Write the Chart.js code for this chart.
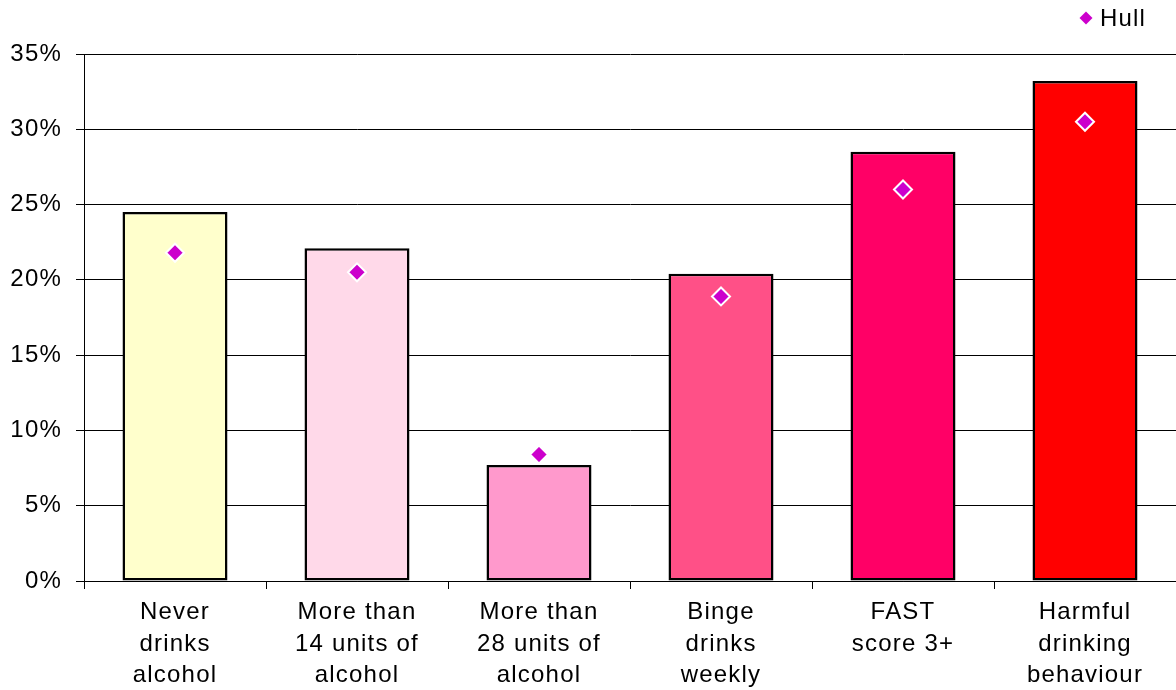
<!DOCTYPE html>
<html>
<head>
<meta charset="utf-8">
<script src="https://cdn.jsdelivr.net/npm/chart.js@4"></script>
<style>
  html, body { margin: 0; padding: 0; background: #ffffff; overflow: hidden; }
  #wrap { width: 1176px; height: 690px; }
  canvas { display: block; }
</style>
</head>
<body>
<div id="wrap"><canvas id="c" width="1176" height="690"></canvas></div>
<script>
const categories = [
  ["Never", "drinks", "alcohol"],
  ["More than", "14 units of", "alcohol"],
  ["More than", "28 units of", "alcohol"],
  ["Binge", "drinks", "weekly"],
  ["FAST", "score 3+"],
  ["Harmful", "drinking", "behaviour"]
];
const comparisonValues = [0.245, 0.221, 0.077, 0.204, 0.285, 0.332];
const hullValues = [0.218, 0.205, 0.084, 0.189, 0.260, 0.305];
const barColors = ["#FFFFCC", "#FFD9E9", "#FF99CC", "#FF5087", "#FF0066", "#FF0000"];
const yTicks = [0, 0.05, 0.10, 0.15, 0.20, 0.25, 0.30, 0.35];

const FONT = "'Liberation Sans', Arial, sans-serif";

const spacingPlugin = {
  id: 'spacing',
  beforeDraw(chart) { chart.ctx.letterSpacing = '1.2px'; }
};

const legendPlugin = {
  id: 'customLegend',
  afterDraw(chart) {
    const ds = chart.data.datasets[0];
    const ctx = chart.ctx;
    ctx.save();
    ctx.fillStyle = ds.pointBackgroundColor;
    ctx.beginPath();
    ctx.moveTo(1086, 11.5); ctx.lineTo(1092.5, 18); ctx.lineTo(1086, 24.5); ctx.lineTo(1079.5, 18);
    ctx.closePath(); ctx.fill();
    ctx.fillStyle = '#000000';
    ctx.font = "24px " + FONT;
    ctx.textBaseline = 'middle';
    ctx.textAlign = 'left';
    ctx.letterSpacing = '1.2px';
    ctx.fillText(ds.label, 1100, 19);
    ctx.restore();
  }
};

new Chart(document.getElementById('c'), {
  data: {
    labels: categories,
    datasets: [
      {
        type: 'line',
        label: 'Hull',
        data: hullValues,
        showLine: false,
        pointStyle: 'rectRot',
        pointRadius: 9,
        pointHoverRadius: 9,
        pointBackgroundColor: '#CC00CC',
        pointBorderColor: '#FFFFFF',
        pointBorderWidth: 2,
        backgroundColor: '#CC00CC',
        borderColor: '#CC00CC',
        order: 0
      },
      {
        type: 'bar',
        label: 'Comparison',
        data: comparisonValues,
        backgroundColor: barColors,
        borderColor: '#000000',
        borderWidth: 2.5,
        borderSkipped: false,
        categoryPercentage: 1,
        barPercentage: 0.577,
        order: 1
      }
    ]
  },
  plugins: [spacingPlugin, legendPlugin],
  options: {
    responsive: false,
    animation: false,
    devicePixelRatio: 1,
    layout: { autoPadding: false, padding: { left: 0, right: 0, top: 54, bottom: 0 } },
    plugins: {
      tooltip: { enabled: false },
      legend: { display: false }
    },
    scales: {
      x: {
        offset: true,
        grid: {
          offset: true,
          drawOnChartArea: false,
          drawTicks: true,
          tickLength: 8,
          color: '#000000',
          lineWidth: 1
        },
        border: { display: true, color: '#000000', width: 1 },
        ticks: {
          color: '#000000',
          maxRotation: 0,
          autoSkip: false,
          padding: 8,
          font: { family: FONT, size: 24, lineHeight: 1.31 }
        },
        afterFit: (s) => { s.height = 109; s.paddingLeft = 0; s.paddingRight = 0; }
      },
      y: {
        min: 0,
        max: 0.35,
        afterBuildTicks: (s) => { s.ticks = yTicks.map(v => ({ value: v })); },
        grid: {
          color: '#000000',
          lineWidth: 1,
          drawTicks: true,
          tickLength: 8
        },
        border: { display: true, color: '#000000', width: 1 },
        ticks: {
          color: '#000000',
          padding: 14,
          font: { family: FONT, size: 24 },
          callback: (v) => Math.round(v * 100) + '%'
        },
        afterFit: (s) => { s.width = 84; s.paddingTop = 0; s.paddingBottom = 0; }
      }
    }
  }
});
</script>
</body>
</html>
